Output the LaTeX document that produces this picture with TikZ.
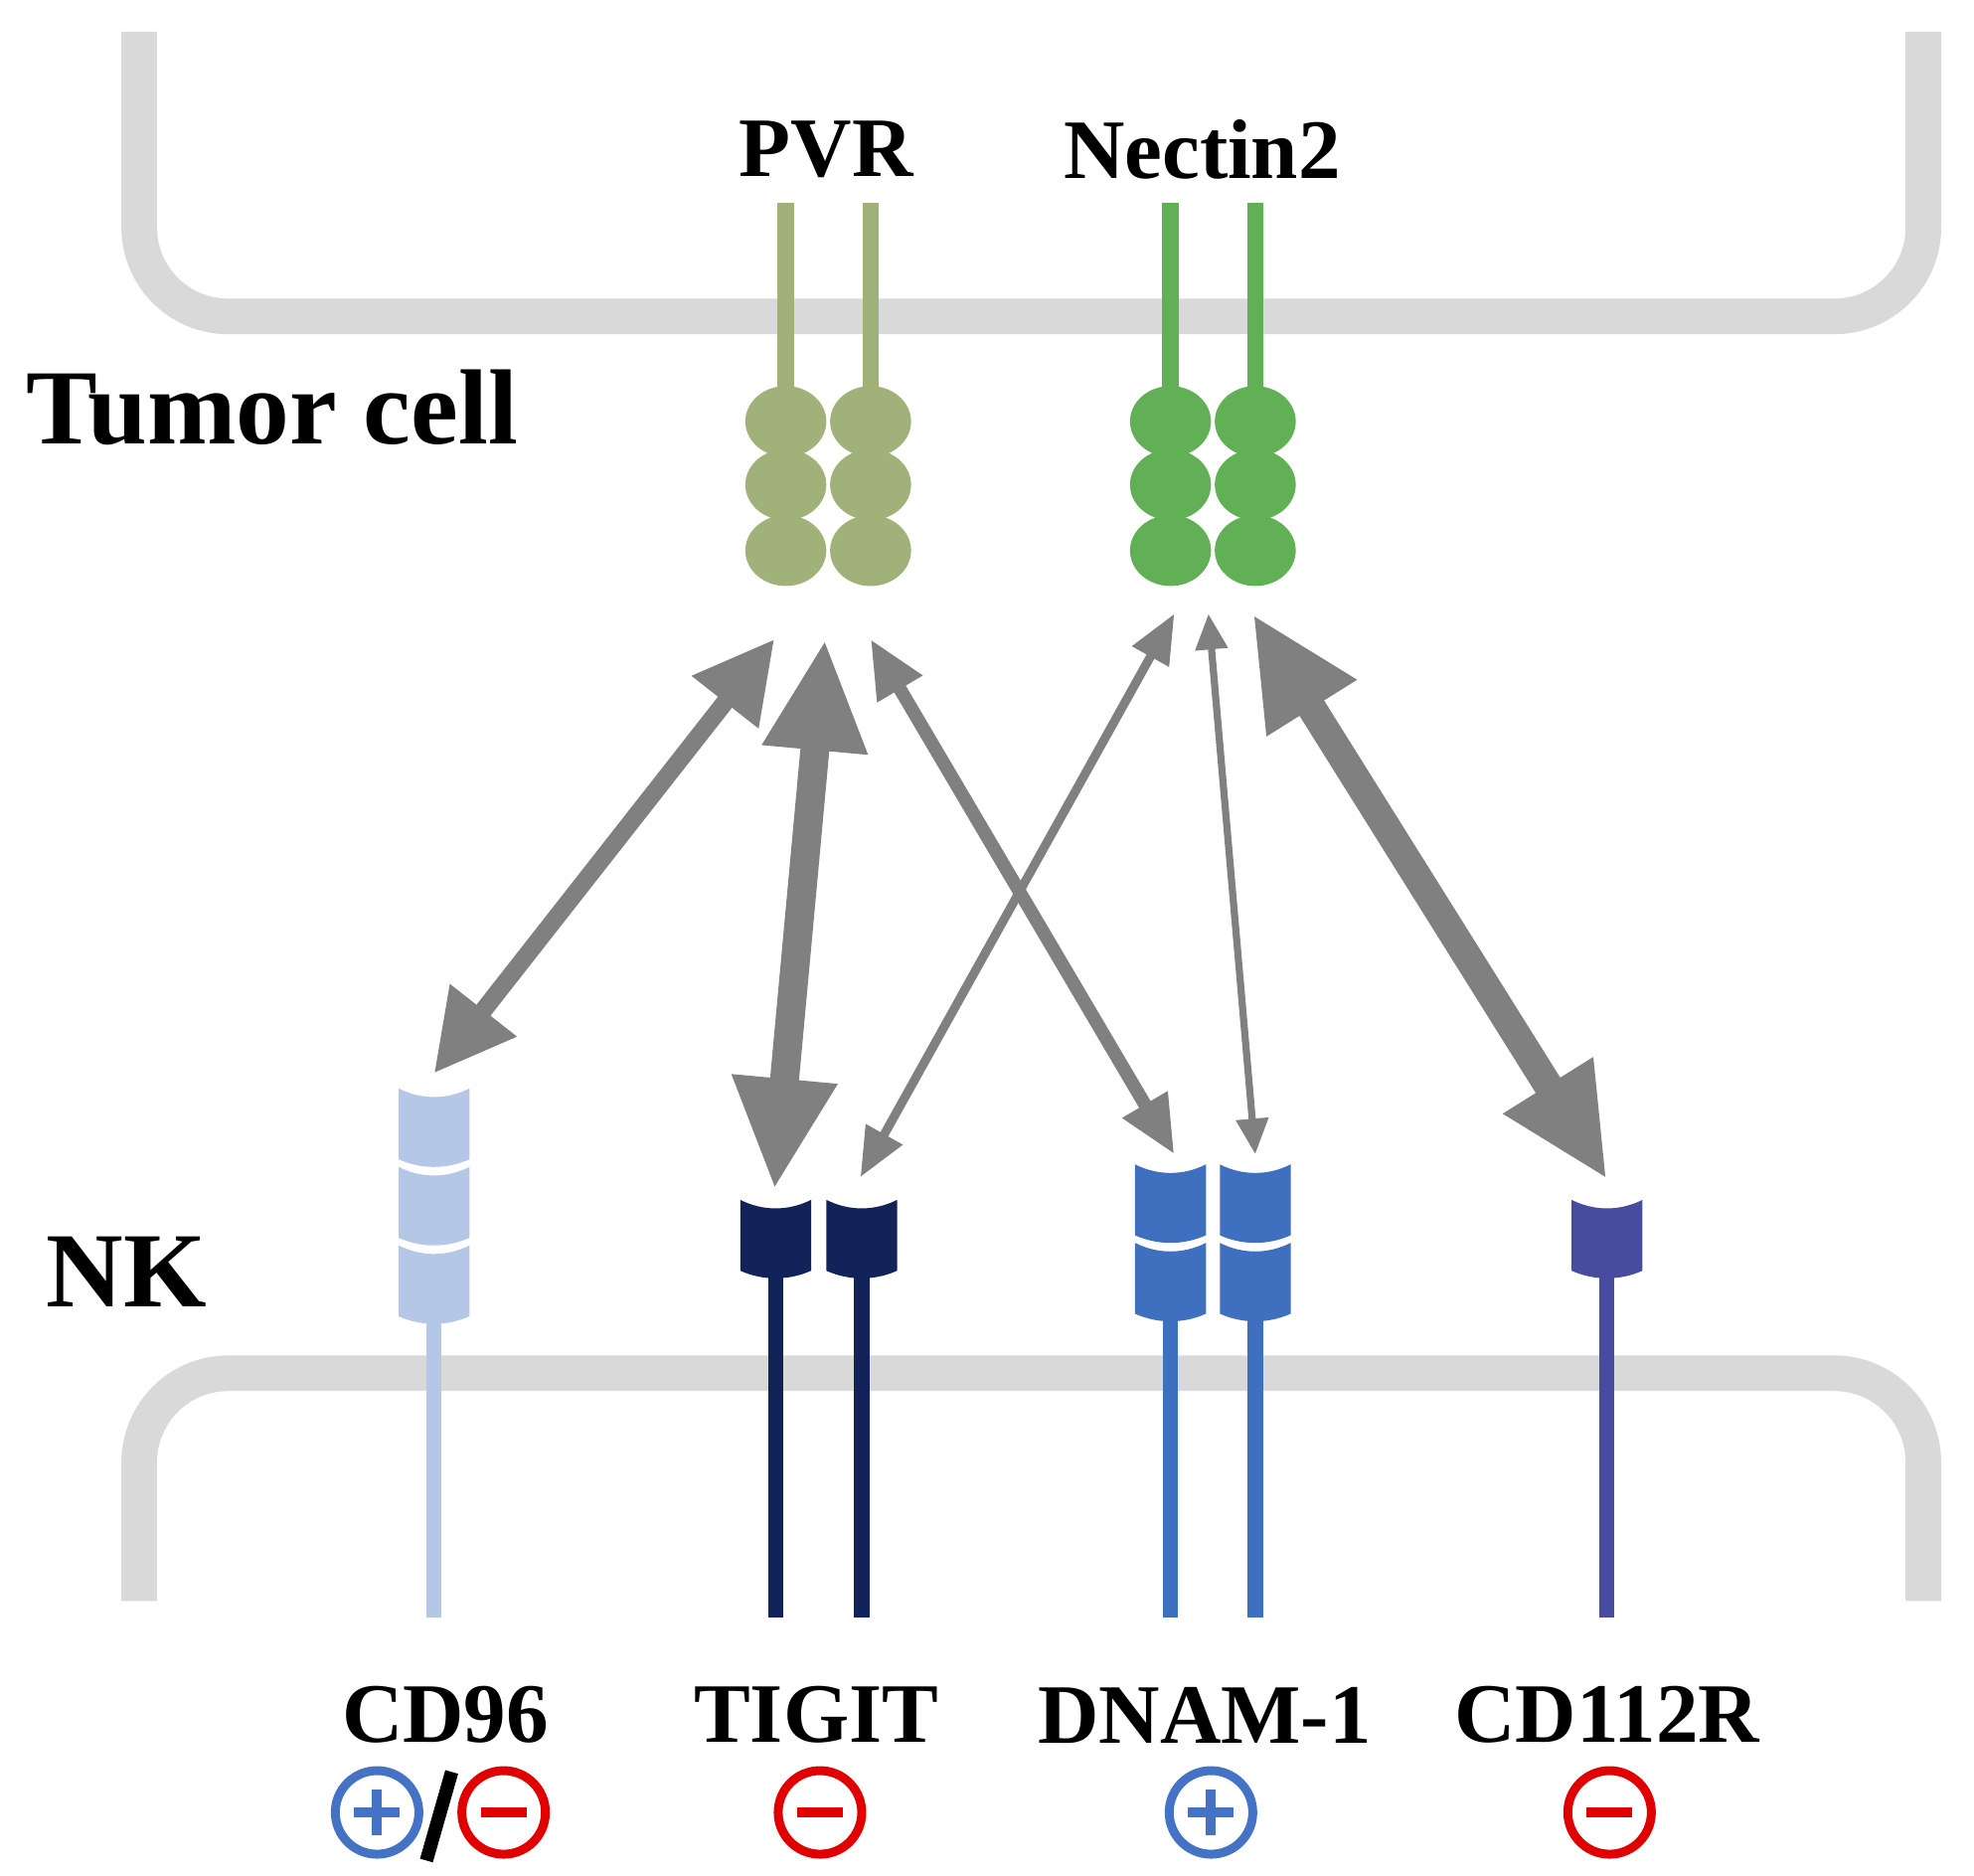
\documentclass[tikz,border=0pt]{standalone}
\usepackage{fontspec}
\setmainfont{Liberation Serif}
\usetikzlibrary{arrows.meta}
\definecolor{mem}{HTML}{D9D9D9}
\definecolor{pvr}{HTML}{A0B27A}
\definecolor{nec}{HTML}{62B055}
\definecolor{cdn}{HTML}{B4C7E7}
\definecolor{tig}{HTML}{12235A}
\definecolor{dnam}{HTML}{3F70C0}
\definecolor{cdr}{HTML}{474C9E}
\definecolor{arr}{HTML}{808080}
\definecolor{plusb}{HTML}{4472C4}
\definecolor{minr}{HTML}{E00000}
\begin{document}
\begin{tikzpicture}[x=0.01cm,y=-0.01cm,
  membrane/.style={mem,line width=8pt},
  lbl/.style={font=\bfseries\fontsize{19}{22}\selectfont,inner sep=0},
  big/.style={font=\bfseries\fontsize{24}{28}\selectfont,inner sep=0},
  ab/.style={arr,line width=#1},
  sgn/.style={circle,draw,line width=2pt,minimum size=0.66cm,inner sep=0}]
\useasboundingbox (0,0) rectangle (1560,1482);
% membranes
\draw[membrane,rounded corners=20pt] (110,25) -- (110,250) -- (1520,250) -- (1520,25);
\draw[membrane,rounded corners=20pt] (110,1265) -- (110,1085) -- (1520,1085) -- (1520,1265);
% ligands
\foreach \x/\c in {621/pvr,688/pvr,925/nec,992/nec}{
  \fill[\c] (\x-6.5,160) rectangle (\x+6.5,330);
  \foreach \y in {435,383,333} \fill[\c] (\x,\y) ellipse (32 and 28);
}
\node[lbl] (pvr) at (653,118) {PVR};
\node[lbl] (nectin) at (950,118) {Nectin2};
\node[big] (tumor) at (215,322) {Tumor cell};
\node[big] (nk) at (100,1005) {NK};
% receptors: stalks
\foreach \x/\c/\t in {343/cdn/1040,613/tig/1005,681/tig/1005,925/dnam/1040,992/dnam/1040,1270/cdr/1005}
  \fill[\c] (\x-6,\t) rectangle (\x+6,1278);
% segments
\newcommand\seg[3]{% x, ytop, color
  \fill[#3] (#1-28,#2) .. controls (#1-10,#2+9) and (#1+10,#2+9) .. (#1+28,#2)
    -- (#1+28,#2+56) .. controls (#1+10,#2+64) and (#1-10,#2+64) .. (#1-28,#2+56) -- cycle;}
\seg{343}{860}{cdn}\seg{343}{922}{cdn}\seg{343}{984}{cdn}
\seg{613}{948}{tig}\seg{681}{948}{tig}
\seg{925}{920}{dnam}\seg{925}{982}{dnam}
\seg{992}{920}{dnam}\seg{992}{982}{dnam}
\seg{1270}{948}{cdr}
% arrow endpoints
\coordinate (p1) at (612,505); \coordinate (q1) at (343,848);
\coordinate (p2) at (652,505); \coordinate (q2) at (612,940);
\coordinate (p3) at (688,505); \coordinate (q3) at (928,912);
\coordinate (p4) at (928,485); \coordinate (q4) at (680,930);
\coordinate (p5) at (955,485); \coordinate (q5) at (992,912);
\coordinate (p6) at (990,485); \coordinate (q6) at (1270,932);
\draw[ab=4pt,{Triangle[length=18pt,width=18pt]}-{Triangle[length=18pt,width=18pt]}] (p1) -- (q1);
\draw[ab=6.5pt,{Triangle[length=25pt,width=22pt]}-{Triangle[length=25pt,width=22pt]}] (p2) -- (q2);
\draw[ab=3pt,{Triangle[length=13pt,width=11pt]}-{Triangle[length=13pt,width=11pt]}] (p3) -- (q3);
\draw[ab=2pt,{Triangle[length=11pt,width=9pt]}-{Triangle[length=11pt,width=9pt]}] (p4) -- (q4);
\draw[ab=1.6pt,{Triangle[length=8pt,width=7pt]}-{Triangle[length=8pt,width=7pt]}] (p5) -- (q5);
\draw[ab=6.5pt,{Triangle[length=25pt,width=22pt]}-{Triangle[length=25pt,width=22pt]}] (p6) -- (q6);
% labels
\node[lbl] (l1) at (352,1355) {CD96};
\node[lbl] (l2) at (645,1355) {TIGIT};
\node[lbl] (l3) at (952,1355) {DNAM-1};
\node[lbl] (l4) at (1270,1355) {CD112R};
\newcommand\plussign[2]{\node[sgn,draw=plusb] (#2) at (#1,1432) {};
  \fill[plusb] (#1-18,1428) rectangle (#1+18,1436); \fill[plusb] (#1-4,1414) rectangle (#1+4,1450);}
\newcommand\minussign[2]{\node[sgn,draw=minr] (#2) at (#1,1432) {};
  \fill[minr] (#1-18,1428) rectangle (#1+18,1436);}
\plussign{298}{s1}\minussign{398}{s2}\minussign{648}{s3}\plussign{957}{s4}\minussign{1272}{s5}
\draw[line width=3pt] (357,1400) -- (337,1470);
\end{tikzpicture}
\end{document}
